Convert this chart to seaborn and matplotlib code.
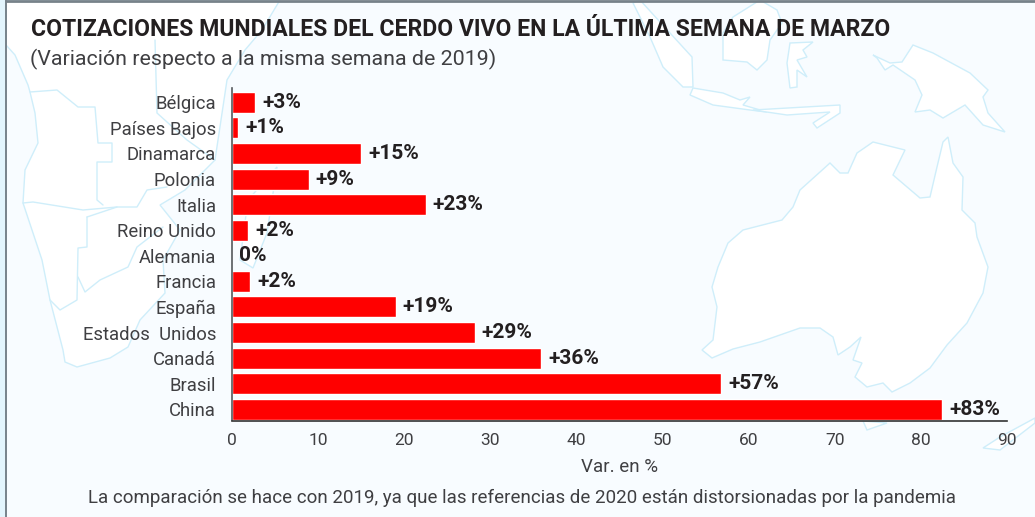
import numpy as np
import pandas as pd
import seaborn as sns
import matplotlib.pyplot as plt
from matplotlib.patches import Polygon

paises = ["Bélgica", "Países Bajos", "Dinamarca", "Polonia", "Italia", "Reino Unido", "Alemania",
          "Francia", "España", "Estados  Unidos", "Canadá", "Brasil", "China"]
variacion = [2.7, 0.7, 15, 8.9, 22.5, 1.85, 0, 2.1, 19, 28.2, 35.9, 56.8, 82.5]
etiquetas = ["+3%", "+1%", "+15%", "+9%", "+23%", "+2%", "0%", "+2%", "+19%", "+29%", "+36%", "+57%", "+83%"]
ticks_x = [0, 10, 20, 30, 40, 50, 60, 70, 80, 90]

W, H = 1035, 517
FONDO = "#f8fcff"
COSTA = "#cfeefa"
GRIS = "#3f3f42"

# siluetas del mapa de fondo, solo decorativas (pixeles de la imagen)
australia = [(702, 350), (712, 358), (733, 349), (760, 342), (800, 328), (820, 328), (833, 337), (838, 355),
             (850, 347), (861, 337), (853, 360), (862, 363), (855, 377), (867, 387), (883, 383), (892, 392),
             (910, 383), (930, 368), (947, 345), (967, 323), (983, 293), (988, 267), (977, 237), (975, 223),
             (962, 210), (963, 177), (953, 163), (948, 137), (943, 142), (937, 167), (930, 197), (920, 198),
             (893, 175), (905, 150), (873, 142), (857, 153), (848, 173), (840, 173), (830, 163), (800, 190),
             (793, 207), (782, 220), (743, 230), (728, 243), (718, 267), (712, 287), (717, 307), (713, 340)]
guinea = [(873, 55), (890, 63), (902, 62), (913, 45), (933, 53), (970, 73), (988, 90), (983, 97), (988, 113),
          (1005, 132), (983, 125), (965, 105), (943, 118), (930, 110), (915, 112), (922, 95), (915, 80),
          (893, 65), (885, 70), (877, 58)]
java = [(690, 95), (693, 88), (723, 93), (740, 100), (750, 97), (743, 105), (767, 112), (750, 110), (713, 105)]
sumatra = [(633, 3), (650, 37), (663, 67), (683, 87), (693, 87), (692, 57), (670, 33), (640, 0)]
borneo = [(723, 60), (723, 33), (733, 17), (760, 0), (777, 10), (782, 23), (770, 40), (767, 60), (757, 70), (747, 62)]
celebes = [(790, 88), (787, 63), (790, 43), (813, 42), (803, 50), (807, 57), (797, 60), (807, 77), (797, 70), (797, 87)]
sonda = [(753, 110), (840, 105), (840, 113), (817, 128), (813, 123), (830, 112), (787, 115)]
tasmania = [(863, 421), (867, 430), (887, 423)]
zelanda = [(983, 448), (1000, 450), (1035, 423), (1035, 418), (1000, 437)]
africa = [(6, 45), (15, 55), (28, 85), (30, 92), (35, 113), (38, 143), (25, 170), (23, 203), (42, 260), (50, 300),
          (63, 350), (65, 362), (77, 367), (110, 358), (128, 347), (140, 320), (165, 293), (163, 260), (180, 230),
          (160, 205), (185, 190), (215, 160), (227, 80), (245, 50), (262, 30), (280, 0), (6, 0)]
madagascar = [(277, 167), (267, 233), (253, 268), (240, 260), (248, 200)]
mapa = [australia, guinea, java, sumatra, borneo, celebes, sonda, tasmania, zelanda, africa, madagascar]
fronteras = [[(23, 203), (33, 202), (83, 210), (117, 207), (137, 207), (147, 190), (167, 187)],
             [(87, 217), (117, 207)],
             [(87, 217), (87, 247), (78, 248), (77, 300), (60, 310), (50, 300)],
             [(78, 277), (85, 292), (100, 280), (128, 267), (137, 247), (163, 227)],
             [(30, 92), (57, 90), (78, 107), (95, 107), (98, 143), (112, 143), (112, 162), (97, 162), (97, 200), (103, 205)],
             [(155, 40), (157, 113), (187, 140), (215, 160)]]

sns.set_theme(style="white")
plt.rcParams["font.family"] = ["Roboto", "DejaVu Sans"]

df = pd.DataFrame({"pais": paises, "variacion": variacion})

fig = plt.figure(figsize=(W / 100, H / 100), dpi=100, facecolor=FONDO)

# capa de fondo en pixeles
bg = fig.add_axes([0, 0, 1, 1], zorder=0)
bg.set_xlim(0, W)
bg.set_ylim(H, 0)
bg.axis("off")
for forma in mapa:
    bg.add_patch(Polygon(forma, closed=True, fc="white", ec=COSTA, lw=1))
for linea in fronteras:
    bg.plot(*zip(*linea), color=COSTA, lw=1)
bg.axvspan(0, 6, color="#e3f5fd", lw=0)
bg.plot([6, 6], [0, H], color="#77828a", lw=1.4)
bg.plot([6, W], [1, 1], color="#77828a", lw=2)

# ejes
ax = fig.add_axes([232 / W, 1 - 420.5 / H, (1007 - 232) / W, (420.5 - 88) / H], zorder=1)
ax.patch.set_alpha(0)
sns.barplot(data=df, x="variacion", y="pais", color="#ff0000", saturation=1, width=0.82, ax=ax)
ax.set_xlim(0, 90)
ax.set_ylim(12.44, -0.56)
ax.set_xticks(ticks_x)
ax.set_ylabel("")
ax.set_xlabel("Var. en %", fontsize=13.5, color=GRIS, labelpad=7)
ax.tick_params(axis="y", length=0, pad=11.5, labelsize=13.3, labelcolor=GRIS)
ax.tick_params(axis="x", length=0, pad=9, labelsize=12.5, labelcolor=GRIS)
sns.despine(ax=ax)
ax.spines["left"].set_color("#55595c")
ax.spines["left"].set_linewidth(1.2)
ax.spines["bottom"].set_color("#333333")
ax.spines["bottom"].set_linewidth(1.2)

for cont in ax.containers:
    ax.bar_label(cont, labels=etiquetas, padding=5, fontsize=15, fontweight="bold", color="#231f20")

# textos
fig.text(31 / W, 1 - 29 / H, "COTIZACIONES MUNDIALES DEL CERDO VIVO EN LA ÚLTIMA SEMANA DE MARZO",
         fontsize=16.6, fontweight="bold", color="#231f20", va="center", ha="left")
fig.text(30 / W, 1 - 59 / H, "(Variación respecto a la misma semana de 2019)",
         fontsize=15.4, color=GRIS, va="center", ha="left")
fig.text(522 / W, 1 - 498 / H, "La comparación se hace con 2019, ya que las referencias de 2020 están distorsionadas por la pandemia",
         fontsize=13.5, color=GRIS, va="center", ha="center")

fig.savefig("out.png", dpi=100, facecolor=fig.get_facecolor())
